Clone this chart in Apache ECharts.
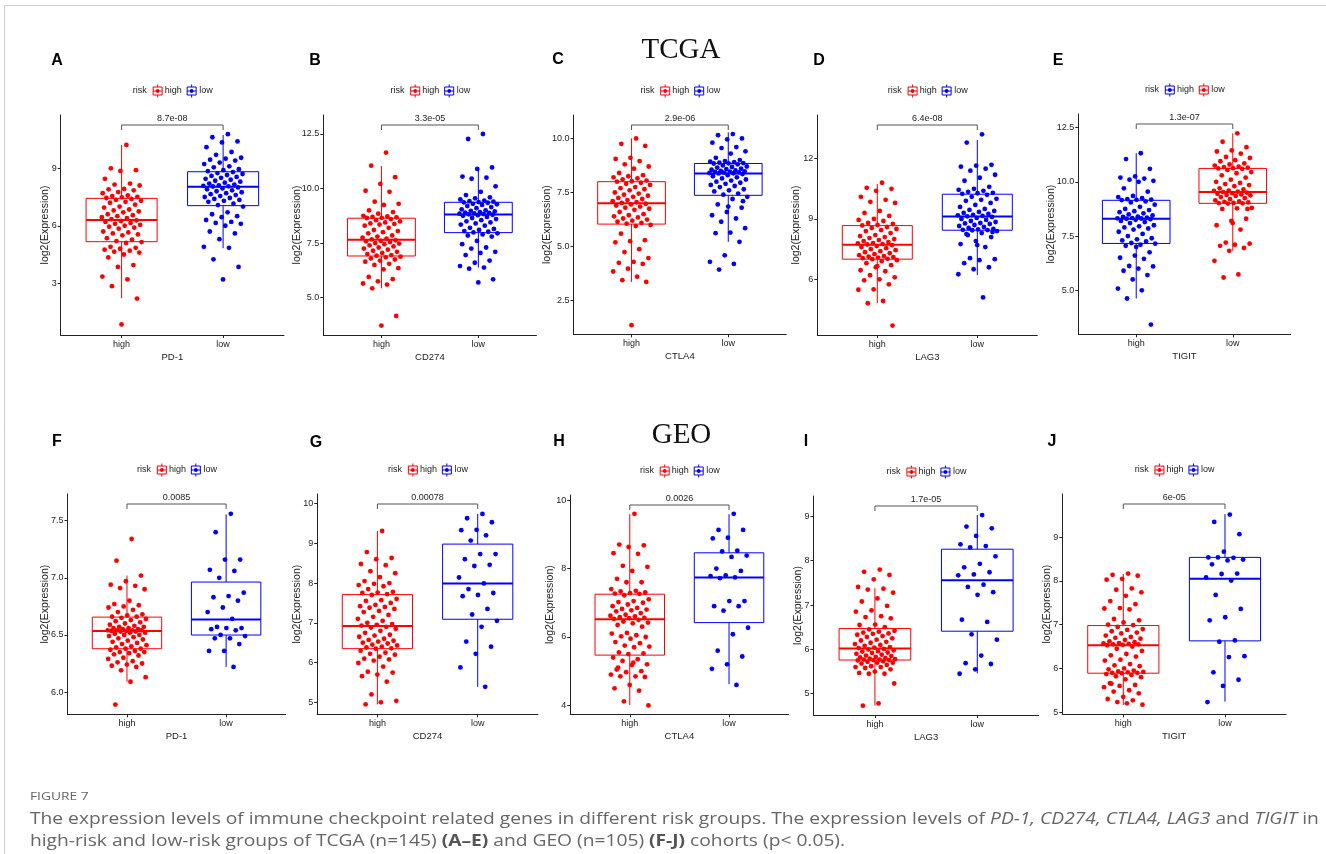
<!DOCTYPE html>
<html>
<head>
<meta charset="utf-8">
<script src="https://cdn.jsdelivr.net/npm/echarts@6/dist/echarts.min.js"></script>
<style>
html,body{margin:0;padding:0;background:#fff;}
#chart{width:1326px;height:854px;}
</style>
</head>
<body>
<div id="chart"></div>
<script>
// ---------------- DATA ----------------
const panelLetters = ['A','B','C','D','E','F','G','H','I','J'];
const genes = ['PD-1','CD274','CTLA4','LAG3','TIGIT','PD-1','CD274','CTLA4','LAG3','TIGIT'];
const pValues = ['8.7e-08','3.3e-05','2.9e-06','6.4e-08','1.3e-07','0.0085','0.00078','0.0026','1.7e-05','6e-05'];
const groups = ['high','low'];
const cohortTitles = ['TCGA','GEO'];
const yTicks = [
  [3,6,9],[5,7.5,10,12.5],[2.5,5,7.5,10],[6,9,12],[5,7.5,10,12.5],
  [6,6.5,7,7.5],[5,6,7,8,9,10],[4,6,8,10],[5,6,7,8,9],[5,6,7,8,9]
];
const yTickDecimals = [0,1,1,0,1,1,0,0,0,0];
const yLimits = [
  [0.3,11.78],[3.29,13.37],[0.95,11.08],[3.23,14.17],[2.97,13.13],
  [5.805,7.734],[4.70,10.24],[3.74,10.15],[4.52,9.46],[4.95,9.99]
];
// box stats: [lower whisker, q1, median, q3, upper whisker]
const boxHigh = [
  [2.22,5.17,6.30,7.43,10.22],[5.43,6.91,7.65,8.64,11.03],[3.37,6.04,7.0,8.0,10.0],
  [4.81,7.0,7.72,8.67,10.74],[4.62,7.16,8.3,9.15,11.32],
  [6.09,6.379,6.534,6.656,7.02],[4.95,6.35,6.92,7.71,9.31],[4.01,5.47,6.52,7.25,9.59],
  [4.73,5.76,6.02,6.47,7.38],[5.16,5.89,6.53,6.98,8.16]
];
const boxLow = [
  [4.83,7.05,8.04,8.82,10.74],[6.38,7.98,8.81,9.37,10.97],[5.22,7.37,8.38,8.84,10.28],
  [6.21,8.44,9.12,10.23,12.93],[6.82,9.01,9.53,10.62,12.24],
  [6.22,6.499,6.636,6.963,7.555],[5.39,7.09,7.99,8.98,9.74],[4.62,6.42,7.74,8.46,9.59],
  [5.46,6.41,7.56,8.26,9.03],[5.24,6.63,8.05,8.54,9.53]
];
// points
const A_high = [10.22,9.0,8.9,8.86,8.45,8.2,8.15,8.1,7.92,7.9,7.85,7.76,7.7,7.58,7.55,7.5,7.48,7.45,
 7.4,7.35,7.3,7.25,7.2,7.1,7.0,6.95,6.85,6.8,6.75,6.7,6.6,6.55,6.5,6.45,6.4,6.35,
 6.28,6.25,6.2,6.15,6.1,6.05,6.0,5.95,5.9,5.85,5.7,5.65,5.6,5.55,5.5,5.35,5.28,5.2,
 5.15,5.1,4.9,4.85,4.8,4.75,4.7,4.65,4.6,4.5,4.35,3.95,3.85,3.35,3.2,2.85,2.2,0.85];
const A_low = [10.78,10.62,10.4,10.35,10.1,9.85,9.7,9.55,9.5,9.45,9.4,9.3,9.22,9.1,9.05,8.95,8.9,8.85,
 8.8,8.75,8.7,8.65,8.6,8.55,8.5,8.45,8.4,8.35,8.3,8.25,8.2,8.15,8.1,8.08,8.06,8.05,
 8.0,7.95,7.9,7.85,7.8,7.75,7.7,7.65,7.6,7.55,7.5,7.45,7.4,7.35,7.3,7.25,7.15,7.08,
 7.0,6.7,6.6,6.5,6.45,6.3,6.2,6.15,6.1,6.0,5.7,5.6,5.3,4.9,4.85,4.25,3.85,3.2];
const B_high = [11.65,11.05,10.52,10.21,9.9,9.85,9.4,9.3,9.25,9.0,8.92,8.85,8.75,8.72,8.7,8.68,8.66,8.65,
 8.6,8.55,8.5,8.45,8.4,8.38,8.35,8.3,8.2,8.1,8.05,8.0,7.95,7.85,7.8,7.75,7.7,7.67,
 7.63,7.6,7.58,7.55,7.5,7.48,7.45,7.4,7.35,7.3,7.25,7.2,7.15,7.1,7.05,7.0,6.95,6.92,
 6.88,6.85,6.8,6.75,6.7,6.65,6.55,6.5,6.35,6.3,5.95,5.85,5.75,5.65,5.6,5.43,4.16,3.72];
const B_low = [12.5,12.27,10.97,10.9,10.55,10.5,10.45,10.1,9.85,9.7,9.6,9.55,9.5,9.45,9.42,9.4,9.38,9.37,
 9.35,9.3,9.28,9.25,9.2,9.15,9.1,9.05,9.0,8.98,8.95,8.92,8.9,8.88,8.86,8.85,8.83,8.82,
 8.8,8.78,8.75,8.7,8.65,8.6,8.55,8.5,8.45,8.4,8.35,8.3,8.2,8.15,8.1,8.05,8.02,7.99,
 7.95,7.9,7.85,7.8,7.6,7.45,7.3,7.25,7.1,7.05,6.95,6.7,6.6,6.45,6.38,6.33,5.84,5.7];
const C_high = [10.0,9.75,9.65,9.1,9.05,8.95,8.8,8.7,8.6,8.4,8.3,8.25,8.2,8.15,8.1,8.05,8.02,8.0,
 7.95,7.9,7.85,7.75,7.7,7.65,7.6,7.5,7.45,7.4,7.35,7.3,7.25,7.2,7.15,7.1,7.05,7.02,
 6.98,6.95,6.9,6.85,6.8,6.75,6.7,6.6,6.5,6.45,6.4,6.35,6.3,6.25,6.2,6.15,6.1,6.06,
 6.0,5.95,5.6,5.3,5.25,5.2,4.88,4.75,4.47,4.3,4.25,4.2,3.98,3.85,3.61,3.45,3.37,1.37];
const C_low = [10.2,10.15,10.0,9.95,9.8,9.6,9.55,9.4,9.3,9.1,9.0,8.95,8.92,8.9,8.88,8.86,8.85,8.84,
 8.8,8.75,8.7,8.68,8.65,8.6,8.58,8.55,8.52,8.5,8.48,8.46,8.45,8.43,8.42,8.4,8.39,8.38,
 8.35,8.3,8.25,8.2,8.15,8.1,8.05,8.0,7.95,7.9,7.85,7.8,7.75,7.65,7.6,7.55,7.45,7.4,
 7.3,7.2,6.95,6.8,6.6,6.45,6.3,6.15,5.85,5.65,5.62,5.22,4.6,4.3,4.2,3.94,7.1,6.85];
const D_high = [10.8,10.55,10.5,10.4,10.1,9.95,9.85,9.8,9.4,9.3,9.15,9.0,8.95,8.9,8.8,8.75,8.7,8.68,
 8.6,8.55,8.5,8.45,8.4,8.3,8.2,8.15,8.1,8.05,8.0,7.95,7.9,7.85,7.8,7.78,7.75,7.73,
 7.7,7.65,7.6,7.55,7.5,7.45,7.4,7.35,7.3,7.25,7.2,7.15,7.12,7.1,7.08,7.05,7.02,7.0,
 6.95,6.9,6.8,6.7,6.6,6.45,6.4,6.2,6.1,6.0,5.95,5.75,5.5,5.48,4.92,4.81,3.7,6.65];
const D_low = [13.21,12.8,11.69,11.65,11.6,11.5,11.4,11.2,11.05,10.9,10.6,10.5,10.45,10.4,10.35,10.3,10.28,10.25,
 10.2,10.1,10.0,9.95,9.9,9.8,9.7,9.6,9.5,9.45,9.4,9.35,9.3,9.25,9.2,9.18,9.15,9.13,
 9.1,9.05,9.0,8.95,8.9,8.85,8.8,8.78,8.75,8.7,8.65,8.6,8.55,8.5,8.48,8.46,8.45,8.44,
 8.4,8.3,8.25,8.1,7.9,7.75,7.6,7.05,7.0,6.95,6.8,6.6,6.5,6.25,5.1,8.2,8.35,7.7];
const E_high = [11.32,11.05,10.6,10.25,10.2,10.15,10.1,10.05,10.0,9.7,9.55,9.35,9.3,9.25,9.2,9.18,9.17,9.16,
 9.1,9.05,8.95,8.85,8.75,8.7,8.65,8.6,8.55,8.5,8.45,8.4,8.38,8.35,8.33,8.32,8.31,8.3,
 8.28,8.25,8.2,8.15,8.1,8.0,7.95,7.9,7.85,7.8,7.7,7.6,7.5,7.4,7.35,7.3,7.25,7.18,
 7.15,7.1,7.05,6.75,6.6,6.5,6.45,6.12,6.1,6.0,5.9,5.7,5.5,5.08,5.0,4.62,3.42,7.0];
const E_low = [12.24,11.85,11.6,11.45,11.4,11.3,11.15,11.1,11.0,10.95,10.85,10.8,10.75,10.7,10.68,10.65,10.63,10.62,
 10.6,10.55,10.45,10.4,10.3,10.2,10.1,10.0,9.95,9.9,9.85,9.8,9.7,9.65,9.6,9.58,9.55,9.53,
 9.5,9.48,9.45,9.42,9.4,9.38,9.35,9.3,9.25,9.2,9.15,9.1,9.08,9.05,9.03,9.02,9.01,9.0,
 8.8,8.78,8.75,8.3,8.2,8.0,7.8,7.2,7.15,7.1,7.05,6.95,6.82,6.36,5.73,5.59,8.75,8.1];
const F_high = [7.34,7.15,7.02,6.97,6.94,6.93,6.91,6.9,6.8,6.77,6.76,6.75,6.74,6.72,6.7,6.68,6.67,6.66,6.66,
 6.65,6.64,6.63,6.62,6.61,6.6,6.59,6.58,6.57,6.57,6.56,6.56,6.55,6.55,6.54,6.54,6.54,6.54,6.535,6.535,
 6.53,6.53,6.52,6.52,6.51,6.5,6.5,6.49,6.48,6.47,6.46,6.45,6.44,6.43,6.42,6.41,6.4,6.39,6.38,6.38,
 6.37,6.36,6.35,6.35,6.34,6.33,6.32,6.3,6.29,6.27,6.26,6.25,6.24,6.23,6.22,6.19,6.13,6.09,5.89];
const F_low = [7.56,7.4,7.16,7.16,7.07,7.06,7.0,6.87,6.84,6.83,6.8,6.74,6.7,6.64,6.57,6.56,6.56,6.55,6.54,6.5,6.49,6.47,6.47,6.42,6.36,6.36,6.22];
const G_high = [9.31,8.78,8.63,8.6,8.48,8.45,8.3,8.25,8.15,8.05,8.0,7.98,7.95,7.92,7.85,7.78,7.76,7.75,7.72,
 7.7,7.6,7.57,7.55,7.5,7.45,7.42,7.4,7.38,7.35,7.3,7.27,7.2,7.15,7.1,7.05,7.0,6.97,6.95,6.93,
 6.9,6.88,6.85,6.8,6.75,6.7,6.68,6.65,6.6,6.57,6.55,6.53,6.5,6.48,6.45,6.43,6.4,6.38,6.36,6.35,
 6.3,6.25,6.22,6.2,6.15,6.1,6.08,6.05,5.99,5.9,5.77,5.75,5.7,5.66,5.52,5.2,5.04,5.0,4.95];
const G_low = [9.74,9.63,9.53,9.34,9.33,9.2,9.07,8.73,8.73,8.6,8.46,8.43,8.14,7.99,7.85,7.75,7.7,7.67,7.35,7.21,7.05,6.9,6.53,6.4,6.22,5.88,5.39];
const H_high = [9.6,8.7,8.68,8.63,8.45,8.43,8.08,8.05,7.93,7.7,7.6,7.6,7.4,7.35,7.33,7.3,7.28,7.27,7.26,
 7.22,7.1,7.05,7.02,7.0,6.95,6.9,6.85,6.82,6.8,6.78,6.75,6.7,6.65,6.62,6.6,6.58,6.56,6.55,6.53,
 6.5,6.45,6.42,6.4,6.35,6.3,6.12,6.1,6.05,6.02,6.0,5.95,5.85,5.82,5.75,5.72,5.7,5.55,5.52,5.5,
 5.4,5.35,5.3,5.2,5.18,5.05,5.0,4.97,4.9,4.85,4.85,4.83,4.6,4.5,4.43,4.12,4.0,5.25,5.1];
const H_low = [9.6,9.13,9.13,8.9,8.88,8.52,8.5,8.38,8.34,8.0,7.93,7.8,7.78,7.74,7.72,7.05,7.05,6.9,6.9,6.77,6.27,6.08,5.6,5.43,5.2,5.07,4.6];
const I_high = [7.8,7.75,7.68,7.58,7.41,7.37,7.35,7.28,7.15,7.08,6.98,6.88,6.85,6.75,6.73,6.7,6.56,6.55,6.5,
 6.45,6.42,6.4,6.38,6.36,6.35,6.33,6.3,6.28,6.25,6.22,6.2,6.17,6.15,6.12,6.1,6.08,6.05,6.04,6.03,
 6.01,6.0,5.98,5.96,5.95,5.93,5.92,5.9,5.88,5.86,5.85,5.83,5.82,5.8,5.79,5.78,5.77,5.77,5.76,5.76,
 5.75,5.73,5.72,5.7,5.7,5.68,5.65,5.62,5.6,5.6,5.58,5.55,5.5,5.47,5.45,5.45,5.23,4.78,4.73];
const I_low = [9.03,8.77,8.73,8.56,8.37,8.33,8.3,8.1,7.93,7.85,7.74,7.69,7.67,7.46,7.41,7.29,7.23,6.67,6.62,6.34,6.22,5.86,5.69,5.67,5.55,5.45];
const J_high = [8.17,8.14,8.12,8.05,8.03,7.83,7.8,7.74,7.66,7.54,7.47,7.38,7.37,7.35,7.13,7.1,7.05,7.0,6.99,
 6.95,6.9,6.88,6.85,6.82,6.8,6.75,6.72,6.7,6.68,6.65,6.62,6.6,6.58,6.57,6.56,6.55,6.55,6.54,6.53,
 6.5,6.45,6.4,6.33,6.3,6.27,6.2,6.18,6.1,6.07,6.05,6.0,5.98,5.95,5.93,5.92,5.91,5.9,5.9,5.89,
 5.87,5.85,5.82,5.8,5.75,5.66,5.62,5.6,5.57,5.5,5.47,5.43,5.35,5.3,5.27,5.23,5.17,5.2,5.65];
const J_low = [9.52,9.35,9.07,8.67,8.54,8.53,8.54,8.49,8.47,8.38,8.17,8.16,8.08,8.01,7.68,7.36,7.17,7.1,6.64,6.61,6.28,6.26,5.91,5.74,5.6,5.23];

const pointsHigh = [A_high,B_high,C_high,D_high,E_high,F_high,G_high,H_high,I_high,J_high];
const pointsLow  = [A_low,B_low,C_low,D_low,E_low,F_low,G_low,H_low,I_low,J_low];

// ---------------- LAYOUT / STYLE ----------------
const RED = '#FF0000', BLUE = '#0000FF';
const panelColors = [[RED,BLUE],[RED,BLUE],[RED,BLUE],[RED,BLUE],[BLUE,RED],
                     [RED,BLUE],[RED,BLUE],[RED,BLUE],[RED,BLUE],[RED,BLUE]];
const gridBoxes = [
  [60.7,115,284,335],[323.3,115,536.5,335],[573.5,115,786.3,334.3],[817.3,115,1037.3,335],[1078.3,114,1290.7,334.3],
  [67.5,494,285.6,714.3],[317.2,494,537.9,714.3],[570.2,495,788.6,714.3],[813.5,496,1038.7,715],[1062.3,494,1286,714.3]
];
const yNameGaps = [10.5,21,21,15.5,21.5,17,14.5,15,10,10];
const letterPos = [[57,61],[315,61],[558,60],[819,61],[1058,61],[57,442],[316,443],[559,442],[806,442],[1052,442]];
const titlePos = [[681,50],[681.5,435]];
const FONT = 'Liberation Sans, Arial, sans-serif';
const TXT = '#222';

function jitter(i){ return ((((i+1)*0.6180339887) % 1) - 0.5) * 0.4; }

const option = {animation:false, grid:[], xAxis:[], yAxis:[], series:[], graphic:[]};

function boxRender(color){
  return function(params, api){
    const x = api.value(0);
    const wlo=api.value(1), q1=api.value(2), med=api.value(3), q3=api.value(4), whi=api.value(5);
    const c = v => api.coord([x, v]);
    const tl = api.coord([x-0.35, q3]), br = api.coord([x+0.35, q1]);
    const ml = api.coord([x-0.35, med]), mr = api.coord([x+0.35, med]);
    return {type:'group', children:[
      {type:'line', shape:{x1:c(whi)[0],y1:c(whi)[1],x2:c(q3)[0],y2:c(q3)[1]}, style:{stroke:color,lineWidth:1}},
      {type:'line', shape:{x1:c(q1)[0],y1:c(q1)[1],x2:c(wlo)[0],y2:c(wlo)[1]}, style:{stroke:color,lineWidth:1}},
      {type:'rect', shape:{x:tl[0],y:tl[1],width:br[0]-tl[0],height:br[1]-tl[1]}, style:{fill:'none',stroke:color,lineWidth:1}},
      {type:'line', shape:{x1:ml[0],y1:ml[1],x2:mr[0],y2:mr[1]}, style:{stroke:color,lineWidth:2}}
    ]};
  };
}

for (let p=0;p<10;p++){
  const [L,T,R,B] = gridBoxes[p];
  const cols = panelColors[p];
  option.grid.push({left:L, top:T, width:R-L, height:B-T, containLabel:false});
  option.xAxis.push({
    gridIndex:p, type:'value', min:0.4, max:2.6,
    axisLine:{show:true, onZero:false, lineStyle:{color:TXT,width:1}},
    axisTick:{show:true, customValues:[1,2], length:3, lineStyle:{color:TXT}},
    axisLabel:{show:true, customValues:[1,2], formatter:v=>groups[Math.round(v)-1], color:TXT, fontSize:9, fontFamily:FONT, margin:5},
    splitLine:{show:false},
    name:genes[p], nameLocation:'middle', nameGap:17, nameMoveOverlap:false,
    nameTextStyle:{fontSize:9.5, color:TXT, fontFamily:FONT}
  });
  option.yAxis.push({
    gridIndex:p, type:'value', min:yLimits[p][0], max:yLimits[p][1],
    axisLine:{show:true, onZero:false, lineStyle:{color:TXT,width:1}},
    axisTick:{show:true, customValues:yTicks[p], length:3, lineStyle:{color:TXT}},
    axisLabel:{show:true, customValues:yTicks[p], formatter:v=>v.toFixed(yTickDecimals[p]), color:TXT, fontSize:9, fontFamily:FONT, margin:4},
    splitLine:{show:false},
    name:'log2(Expression)', nameLocation:'middle', nameGap:yNameGaps[p], nameRotate:90, nameMoveOverlap:false,
    nameTextStyle:{fontSize:10.5, color:TXT, fontFamily:FONT}
  });
  // boxes
  [boxHigh[p], boxLow[p]].forEach((bs, g)=>{
    option.series.push({
      type:'custom', xAxisIndex:p, yAxisIndex:p, z:2,
      renderItem:boxRender(cols[g]),
      encode:{x:0, y:[1,2,3,4,5]},
      data:[[g+1].concat(bs)]
    });
  });
  // points
  [pointsHigh[p], pointsLow[p]].forEach((pts, g)=>{
    option.series.push({
      type:'scatter', xAxisIndex:p, yAxisIndex:p, z:3,
      symbolSize:4.8, itemStyle:{color:cols[g], opacity:1},
      data: pts.map((v,i)=>[g+1+jitter(i), v])
    });
  });
  // p-value bracket
  const ymax = yLimits[p][1];
  const pv = pValues[p];
  option.series.push({
    type:'custom', xAxisIndex:p, yAxisIndex:p, z:4,
    renderItem:function(params, api){
      const a = api.coord([1, ymax]), b = api.coord([2, ymax]);
      const yb = a[1] + 10;
      return {type:'group', children:[
        {type:'polyline', shape:{points:[[a[0],yb+5],[a[0],yb],[b[0],yb],[b[0],yb+5]]}, style:{stroke:'#555',lineWidth:1,fill:'none'}},
        {type:'text', x:(a[0]+b[0])/2, y:yb-6, style:{text:pv, fill:TXT, fontSize:9, fontFamily:FONT, align:'center', verticalAlign:'middle'}}
      ]};
    },
    encode:{x:0,y:1},
    data:[[1.5, ymax]]
  });
  // legend
  const cx=(L+R)/2, cy=T-24;
  const txt = (x, s)=>({type:'text', x:x, y:cy, style:{text:s, fill:TXT, fontSize:9, fontFamily:FONT, align:'center', verticalAlign:'middle'}});
  const icon = (x, c)=>({type:'group', children:[
    {type:'line', shape:{x1:x,y1:cy-6.5,x2:x,y2:cy-4}, style:{stroke:c,lineWidth:1}},
    {type:'line', shape:{x1:x,y1:cy+4,x2:x,y2:cy+6.5}, style:{stroke:c,lineWidth:1}},
    {type:'rect', shape:{x:x-4.5,y:cy-4,width:9,height:8}, style:{fill:'#fff',stroke:c,lineWidth:1}},
    {type:'line', shape:{x1:x-4.5,y1:cy,x2:x+4.5,y2:cy}, style:{stroke:c,lineWidth:1}},
    {type:'circle', shape:{cx:x,cy:cy,r:1.9}, style:{fill:c}}
  ]});
  option.graphic.push(txt(cx-32.5,'risk'), icon(cx-14.7, cols[0]), txt(cx+0.9, groups[0]), icon(cx+19.3, cols[1]), txt(cx+33.6, groups[1]));
  // panel letter
  option.graphic.push({type:'text', x:letterPos[p][0], y:letterPos[p][1], style:{text:panelLetters[p], fill:'#000', fontSize:16, fontWeight:'bold', fontFamily:FONT, align:'center', verticalAlign:'middle'}});
}
// cohort titles
cohortTitles.forEach((t,i)=>{
  option.graphic.push({type:'text', x:titlePos[i][0], y:titlePos[i][1], style:{text:t, fill:'#111', fontSize:29, fontFamily:'Liberation Serif, DejaVu Serif, serif', align:'center', verticalAlign:'middle'}});
});
// frame lines
option.graphic.push({type:'line', shape:{x1:4.5,y1:5.5,x2:1326,y2:5.5}, style:{stroke:'#cccccc',lineWidth:1}});
option.graphic.push({type:'line', shape:{x1:4.5,y1:5.5,x2:4.5,y2:854}, style:{stroke:'#cccccc',lineWidth:1}});
// caption
const CAP = 'Open Sans, Liberation Sans, sans-serif';
option.graphic.push({type:'text', x:30, y:797, scaleX:1.2, style:{text:'FIGURE 7', fill:'#666', fontSize:11.5, fontFamily:CAP, align:'left', verticalAlign:'middle'}});
option.graphic.push({type:'text', x:30, y:819, scaleX:1.2, style:{
  text:'{n|The expression levels of immune checkpoint related genes in different risk groups. The expression levels of }{i|PD-1, CD274, CTLA4, LAG3}{n| and }{i|TIGIT}{n| in}',
  align:'left', verticalAlign:'middle',
  rich:{n:{fill:'#666',fontSize:16,fontFamily:CAP}, i:{fill:'#666',fontSize:16,fontFamily:CAP,fontStyle:'italic'}}
}});
option.graphic.push({type:'text', x:30, y:841, scaleX:1.2, style:{
  text:'{n|high-risk and low-risk groups of TCGA (n=145) }{b|(A\u2013E)}{n| and GEO (n=105) }{b|(F-J)}{n| cohorts (p< 0.05).}',
  align:'left', verticalAlign:'middle',
  rich:{n:{fill:'#666',fontSize:16,fontFamily:CAP}, b:{fill:'#555',fontSize:16,fontFamily:CAP,fontWeight:'bold'}}
}});

const chart = echarts.init(document.getElementById('chart'), null, {renderer:'canvas', width:1326, height:854});
chart.setOption(option);
</script>
</body>
</html>
